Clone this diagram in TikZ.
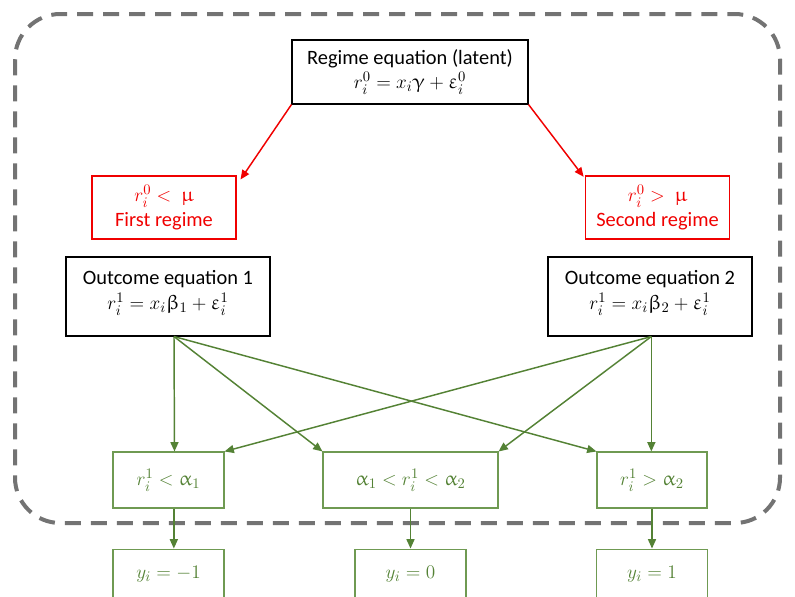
\documentclass[tikz,border=0pt]{standalone}
\usepackage{amsmath}
\usepackage{upgreek}
\usepackage{fontspec}
\setmainfont{Carlito}
\usepackage{tikz}
\usetikzlibrary{arrows.meta,positioning}
\usepackage{xcolor}
\definecolor{regred}{HTML}{F00000}
\definecolor{outgreen}{HTML}{548235}
\definecolor{boxgreen}{HTML}{6F9A52}
\definecolor{framegray}{HTML}{737373}

\begin{document}
\begin{tikzpicture}[
  x=0.75pt, y=-0.75pt,
  font=\fontsize{15.3}{18.5}\selectfont,
  box/.style={draw, line width=0.8pt, align=center, inner sep=0pt},
  regbox/.style={box, draw=regred, text=regred, minimum width=108pt, minimum height=47.25pt},
  catbox/.style={box, draw=boxgreen, text=outgreen, minimum height=42pt},
  ybox/.style={box, draw=boxgreen, text=outgreen, minimum width=83.25pt, minimum height=37.5pt},
  redarrow/.style={-{Triangle[length=7pt,width=6pt]}, line width=1.1pt, draw=regred},
  arrow/.style={-{Triangle[length=7pt,width=6pt]}, line width=1.1pt, draw=outgreen},
  frame/.style={draw=framegray, line width=3pt, dash pattern=on 12pt off 7.5pt, rounded corners=34pt}
]
\useasboundingbox (0,0) rectangle (795,596);
\draw[frame] (15,14) rectangle (780,523);

\node[box, minimum width=177pt, minimum height=48pt] (regime) at (410,72)
  {Regime equation (latent)\\ $r_i^0 = x_i\upgamma + \upvarepsilon_i^0$};
\node[regbox] (first) at (164,207.5) {$r_i^0 <\ \upmu$\\ First regime};
\node[regbox] (second) at (657.5,207.5) {$r_i^0 >\ \upmu$\\ Second regime};
\node[box, minimum width=153pt, minimum height=59.25pt] (out1) at (168,296.5)
  {Outcome equation 1\\ $r_i^1 = x_i\upbeta_1 + \upvarepsilon_i^1$\\[-9pt]\mbox{}};
\node[box, minimum width=153pt, minimum height=59.25pt] (out2) at (650,296.5)
  {Outcome equation 2\\ $r_i^1 = x_i\upbeta_2 + \upvarepsilon_i^1$\\[-9pt]\mbox{}};

\node[catbox, minimum width=83.25pt] (low) at (168.5,480) {$r_i^1 < \upalpha_1$};
\node[catbox, minimum width=131.25pt] (mid) at (410.5,480) {$\upalpha_1 < r_i^1 < \upalpha_2$};
\node[catbox, minimum width=82.5pt] (high) at (652,480) {$r_i^1 > \upalpha_2$};

\node[ybox, below=30pt of low] (ylow) {$y_i = -1$};
\node[ybox, below=30pt of mid] (ymid) {$y_i = 0$};
\node[ybox, below=30pt of high] (yhigh) {$y_i = 1$};

% regimes
\draw[redarrow] (regime.south west) -- ([shift={(3pt,-3pt)}]first.north east);
\draw[redarrow] (regime.south east) -- ([shift={(-1pt,-1pt)}]second.north west);

% outcome 1
\draw[arrow] ([xshift=4.5pt]out1.south) -- ([xshift=4.5pt]low.north);
\draw[arrow] ([xshift=4.5pt]out1.south) -- (mid.north west);
\draw[arrow] ([xshift=4.5pt]out1.south) -- (high.north west);
% outcome 2
\draw[arrow] ([xshift=1pt]out2.south) -- (low.north east);
\draw[arrow] ([xshift=1pt]out2.south) -- (mid.north east);
\draw[arrow] ([xshift=1pt]out2.south) -- ([xshift=-0.5pt]high.north);

\draw[arrow] ([xshift=4pt]low.south) -- ([xshift=4pt]ylow.north);
\draw[arrow] (mid.south) -- (ymid.north);
\draw[arrow] (high.south) -- (yhigh.north);
\end{tikzpicture}
\end{document}
